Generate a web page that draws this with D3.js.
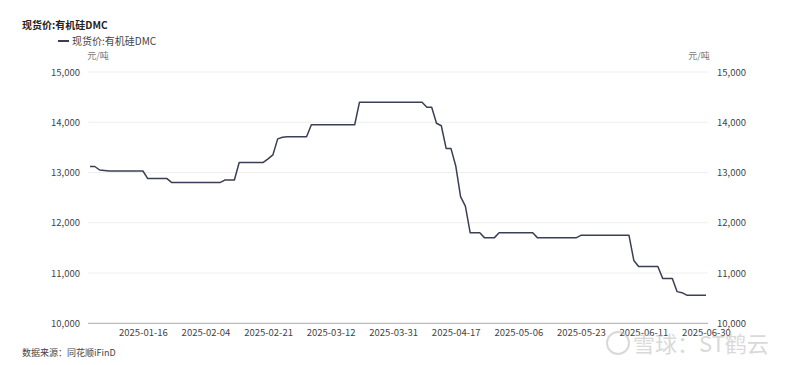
<!DOCTYPE html>
<html><head><meta charset="utf-8">
<script src="https://cdn.jsdelivr.net/npm/d3@7/dist/d3.min.js"></script>
<style>
html,body{margin:0;padding:0;background:#fff;}
text{font-family:"Noto Sans CJK SC","Noto Sans",sans-serif;}
</style></head>
<body><svg id="c" width="800" height="365"></svg>
<script>
const title = "现货价:有机硅DMC";
const seriesName = "现货价:有机硅DMC";
const unit = "元/吨";
const source = "数据来源：同花顺iFinD";
const startDate = "2025-01-01", endDate = "2025-06-30";
const values = [
 13120,13120,13050,13040,
 13030,13030,13030,13030,13030,13030,13030,13030,
 12880,12880,12880,12880,12880,
 12800,12800,12800,12800,12800,12800,12800,12800,12800,12800,12800,
 12850,12850,12850,
 13200,13200,13200,13200,13200,13200,
 13270,13350,13670,13700,
 13710,13710,13710,13710,13710,
 13950,13950,13950,13950,13950,13950,13950,13950,13950,13950,
 14400,14400,14400,14400,14400,14400,14400,14400,14400,14400,14400,14400,14400,14400,
 14300,14300,13980,13930,13480,13480,13130,12520,12330,
 11800,11800,11800,
 11700,11700,11700,
 11800,11800,11800,11800,11800,11800,11800,11800,
 11700,11700,11700,11700,11700,11700,11700,11700,11700,
 11750,11750,11750,11750,11750,11750,11750,11750,11750,11750,11750,
 11250,
 11130,11130,11130,11130,11130,
 10890,10890,10890,
 10630,10610,
 10560,10560,10560,10560,10560
];
const yTicks = [10000,11000,12000,13000,14000,15000];
const xTickLabels = ["2025-01-16","2025-02-04","2025-02-21","2025-03-12","2025-03-31","2025-04-17","2025-05-06","2025-05-23","2025-06-11","2025-06-30"];

// weekday categories
const fmt = d3.timeFormat("%Y-%m-%d");
const parse = d3.timeParse("%Y-%m-%d");
const dates = d3.timeDay.range(parse(startDate), d3.timeDay.offset(parse(endDate),1))
  .filter(d => d.getDay() !== 0 && d.getDay() !== 6).map(fmt);
const data = dates.map((d,i)=>({d, v: values[i]}));

const svg = d3.select("#c");
const L = 90, R = 706, T = 72, B = 323.3;
const x = d3.scalePoint().domain(dates).range([L, R]);
const y = d3.scaleLinear().domain([10000, 15000]).range([B, T]);
const nf = d3.format(",");

// gridlines
svg.append("g").selectAll("line").data(yTicks.filter(t=>t!==10000)).join("line")
  .attr("x1", 88).attr("x2", 708).attr("y1", d=>y(d)).attr("y2", d=>y(d))
  .attr("stroke", "#eeeeee").attr("stroke-width", 1);

// left axis
const la = svg.append("g").attr("transform", `translate(${88},0)`)
  .call(d3.axisLeft(y).tickValues(yTicks).tickFormat(nf).tickSize(0).tickPadding(8));
la.select(".domain").remove();
la.selectAll("text").attr("fill", "#444").attr("font-size", "9.5px")
  .attr("font-family", "'Noto Sans CJK SC','Noto Sans',sans-serif");

// right axis
const ra = svg.append("g").attr("transform", `translate(${708},0)`)
  .call(d3.axisRight(y).tickValues(yTicks).tickFormat(nf).tickSize(0).tickPadding(9));
ra.select(".domain").remove();
ra.selectAll("text").attr("fill", "#444").attr("font-size", "9.5px")
  .attr("font-family", "'Noto Sans CJK SC','Noto Sans',sans-serif");

// bottom axis
const ba = svg.append("g").attr("transform", `translate(0,${B})`)
  .call(d3.axisBottom(x).tickValues(xTickLabels).tickSize(0).tickPadding(6));
ba.select(".domain").attr("d", `M88,0H708`).attr("stroke", "#aaaaaa");
ba.selectAll("text").attr("fill", "#444").attr("font-size", "9.5px")
  .attr("font-family", "'Noto Sans CJK SC','Noto Sans',sans-serif");

// line
svg.append("path").datum(data)
  .attr("fill", "none").attr("stroke", "#3b3f54").attr("stroke-width", 1.5)
  .attr("stroke-linejoin", "round")
  .attr("d", d3.line().x(d=>x(d.d)).y(d=>y(d.v)));

// title & legend
svg.append("text").attr("x", 22).attr("y", 29).attr("font-size", "10px")
  .attr("font-weight", "bold").attr("fill", "#222").text(title);
svg.append("line").attr("x1", 58).attr("x2", 69).attr("y1", 41).attr("y2", 41)
  .attr("stroke", "#3b3f54").attr("stroke-width", 2);
svg.append("text").attr("x", 72).attr("y", 44.5).attr("font-size", "10px")
  .attr("fill", "#444").text(seriesName);

// units
svg.append("text").attr("x", 98).attr("y", 59).attr("text-anchor", "middle")
  .attr("font-size", "9px").attr("fill", "#777").text(unit);
svg.append("text").attr("x", 699).attr("y", 59).attr("text-anchor", "middle")
  .attr("font-size", "9px").attr("fill", "#777").text(unit);

// source
svg.append("text").attr("x", 22).attr("y", 356).attr("font-size", "9px")
  .attr("fill", "#444").text(source);

// watermark
const wm = svg.append("g").attr("opacity", 0.55);
wm.append("circle").attr("cx", 618).attr("cy", 343).attr("r", 11)
  .attr("fill", "none").attr("stroke", "#bbb").attr("stroke-width", 2);
wm.append("text").attr("x", 633).attr("y", 352).attr("font-size", "22px")
  .attr("fill", "#bbb").text("雪球：ST鹤云");
</script></body></html>
